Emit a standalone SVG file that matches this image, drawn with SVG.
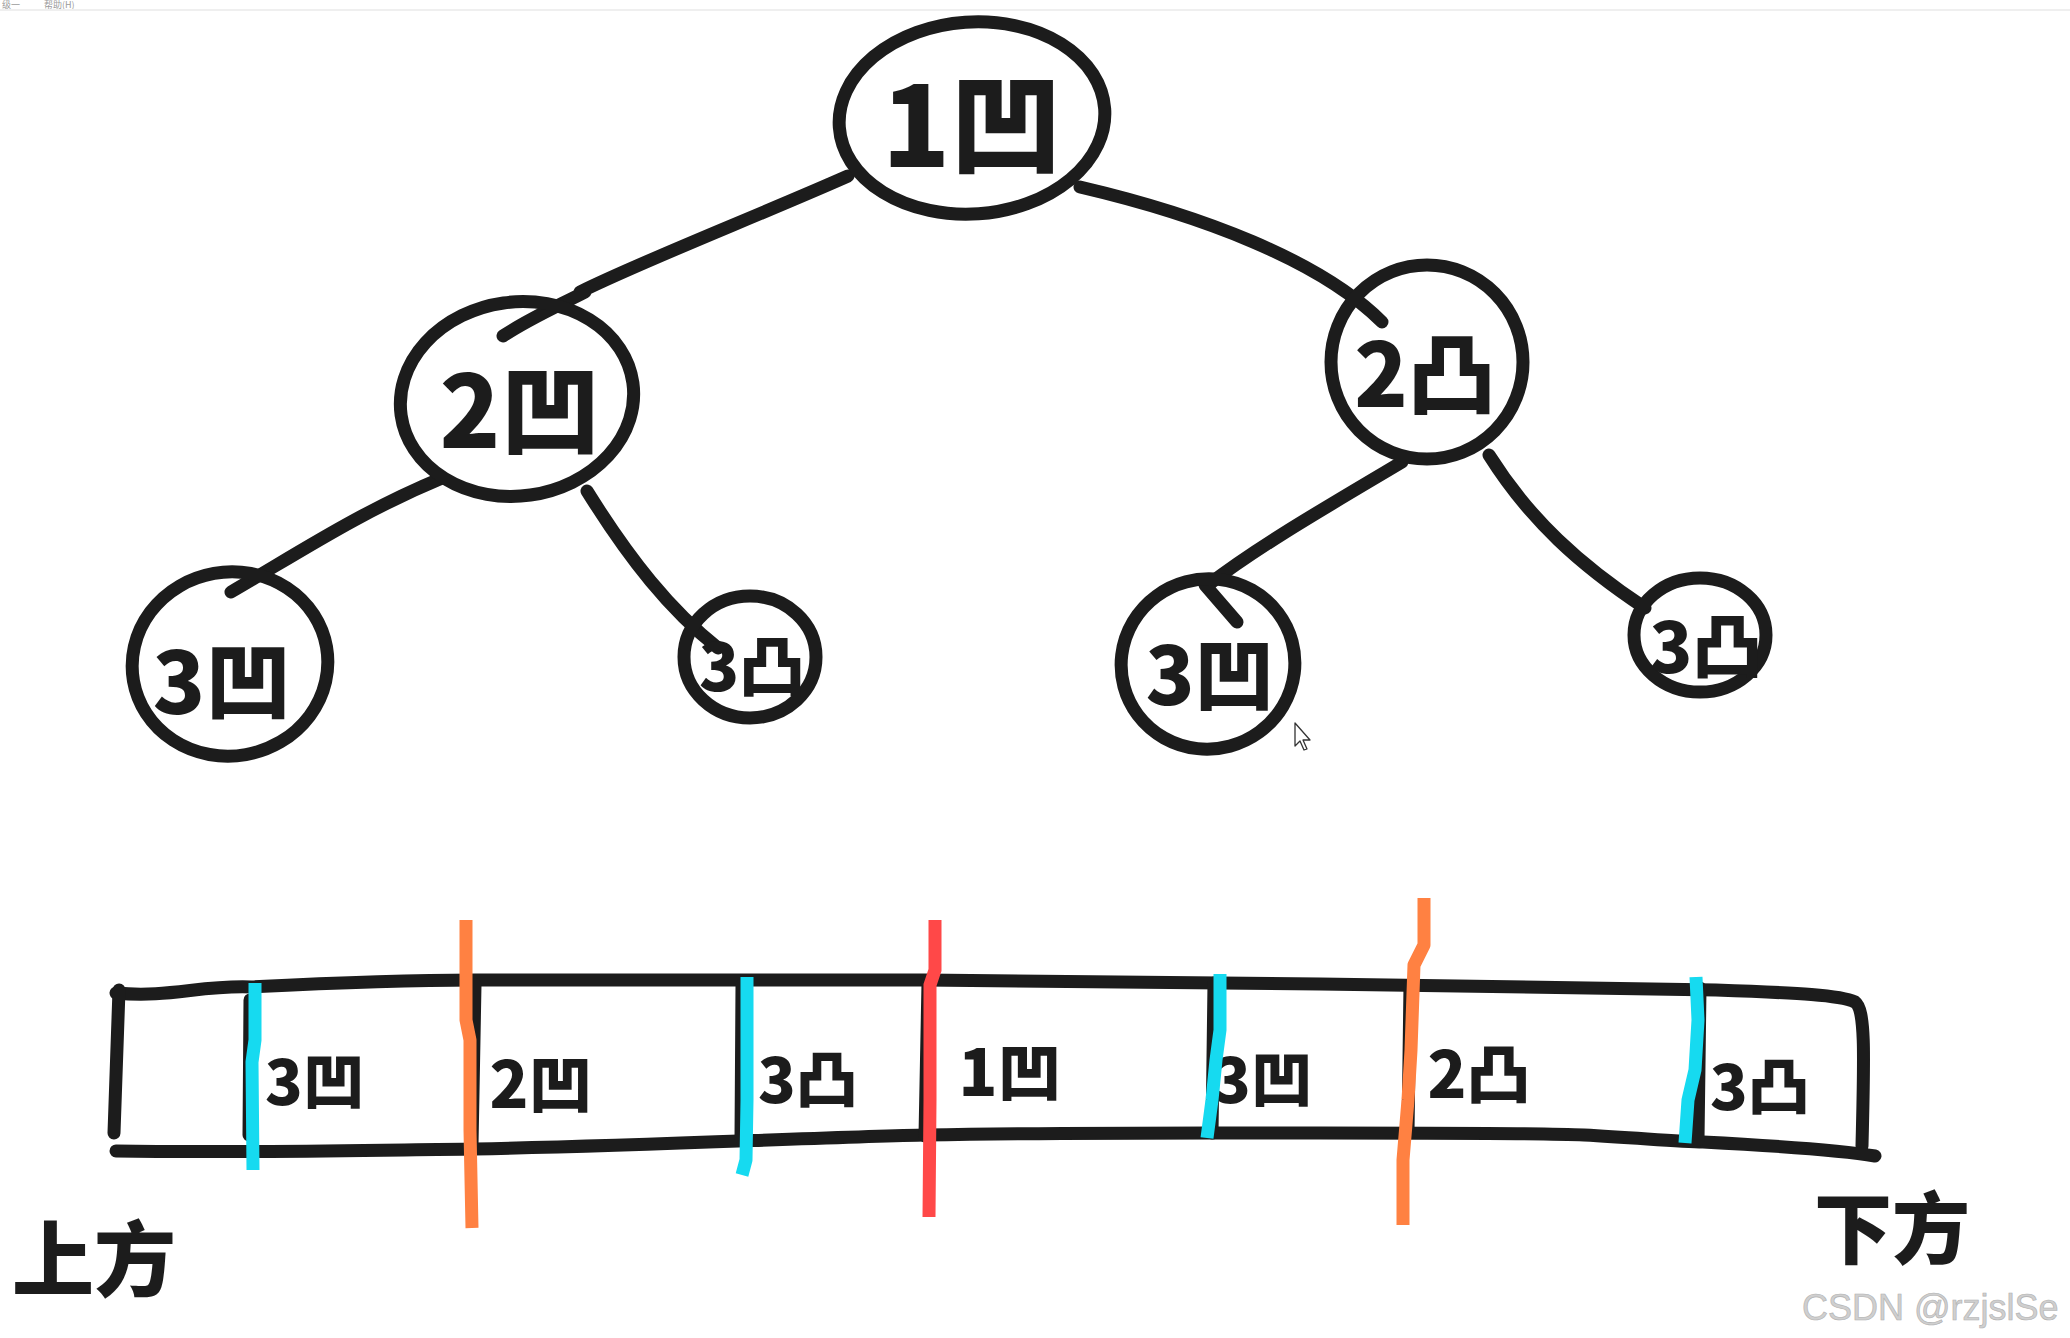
<svg xmlns="http://www.w3.org/2000/svg" width="2070" height="1338" viewBox="0 0 2070 1338">
<style>
.ink{fill:none;stroke:#1c1c1c;stroke-width:13;stroke-linecap:round;stroke-linejoin:round}
.lbl{font-family:"Noto Sans CJK SC","Noto Sans",sans-serif;font-weight:900;fill:#1c1c1c;text-anchor:middle;dominant-baseline:central}
.cy{fill:none;stroke:#16daf0;stroke-width:13;stroke-linecap:butt;stroke-linejoin:round}
.or{fill:none;stroke:#ff8142;stroke-width:13;stroke-linecap:butt;stroke-linejoin:round}
.rd{fill:none;stroke:#ff4848;stroke-width:13;stroke-linecap:butt}
</style>
<rect width="2070" height="1338" fill="#ffffff"/>
<g id="titlebar">
<text x="2" y="8" font-family="Noto Sans CJK SC, sans-serif" font-size="9" fill="#9a9a9a">级一</text>
<text x="44" y="8" font-family="Noto Sans CJK SC, sans-serif" font-size="9" fill="#9a9a9a">帮助(H)</text>
<line x1="0" y1="10" x2="2070" y2="10" stroke="#efefef" stroke-width="2"/>
</g>
<g id="connectors">
<path class="ink" d="M848,176 C760,215 640,262 580,292 M585,292 C560,305 530,318 503,336"/>
<path class="ink" d="M1080,187 C1200,215 1320,260 1382,322"/>
<path class="ink" d="M442,478 C360,512 300,552 231,592"/>
<path class="ink" d="M587,491 C630,560 670,610 718,648"/>
<path class="ink" d="M1402,462 C1330,505 1260,545 1208,585 M1205,585 L1237,622"/>
<path class="ink" d="M1489,455 C1530,520 1580,565 1645,608"/>
</g>
<g id="node-1">
<ellipse class="ink" cx="972" cy="118" rx="133" ry="96" transform="rotate(-4 972 118)"/>
<text class="lbl" x="972" y="118" font-size="112">1凹</text>
</g>
<g id="node-2a">
<ellipse class="ink" cx="517" cy="399" rx="117" ry="97" transform="rotate(-8 517 399)"/>
<text class="lbl" x="520" y="404" font-size="100">2凹</text>
</g>
<g id="node-2b">
<ellipse class="ink" cx="1427" cy="362" rx="96" ry="97"/>
<text class="lbl" x="1425" y="368" font-size="88">2凸</text>
</g>
<g id="node-3a">
<ellipse class="ink" cx="230" cy="664" rx="98" ry="92" transform="rotate(-10 230 664)"/>
<text class="lbl" x="222" y="676" font-size="86">3凹</text>
</g>
<g id="node-3b">
<ellipse class="ink" cx="750" cy="657" rx="66" ry="61"/>
<text class="lbl" x="752" y="662" font-size="66">3凸</text>
</g>
<g id="node-3c">
<ellipse class="ink" cx="1208" cy="664" rx="87" ry="85" transform="rotate(-15 1208 664)"/>
<text class="lbl" x="1210" y="670" font-size="80">3凹</text>
</g>
<g id="node-3d">
<ellipse class="ink" cx="1700" cy="635" rx="66" ry="57"/>
<text class="lbl" x="1706" y="642" font-size="70">3凸</text>
</g>
<g id="array">
<path class="ink" d="M116,993 C170,998 200,985 251,987 C330,983 400,980 475,980 C640,980 800,980 924,980 C1100,982 1220,984 1320,984 C1500,986 1620,988 1716,990 C1800,993 1840,995 1855,1002 C1866,1010 1864,1060 1862,1146"/>
<path class="ink" d="M119,990 L114,1133"/>
<path class="ink" d="M116,1151 C250,1153 380,1150 475,1149 C640,1146 800,1138 924,1135 C1100,1132 1220,1133 1320,1133 C1450,1133 1540,1133 1584,1135 C1640,1138 1680,1142 1703,1142 C1780,1146 1840,1150 1875,1156"/>
<path class="ink" d="M250,1000 L249,1135"/>
<path class="ink" d="M475,985 L472,1146"/>
<path class="ink" d="M742,985 L741,1138"/>
<path class="ink" d="M928,983 L925,1136"/>
<path class="ink" d="M1214,983 L1212,1133"/>
<path class="ink" d="M1410,985 L1408,1133"/>
<path class="ink" d="M1700,988 L1698,1140"/>
<text class="lbl" x="315" y="1078" font-size="62">3凹</text>
<text class="lbl" x="541" y="1080" font-size="64">2凹</text>
<text class="lbl" x="808" y="1076" font-size="62">3凸</text>
<text class="lbl" x="1010" y="1068" font-size="64">1凹</text>
<text class="lbl" x="1263" y="1076" font-size="62">3凹</text>
<text class="lbl" x="1479" y="1070" font-size="64">2凸</text>
<text class="lbl" x="1760" y="1083" font-size="62">3凸</text>
</g>
<g id="markers">
<path class="cy" d="M255,983 L255,1040 L252,1062 L253,1170"/>
<path class="or" d="M466,920 L466,1020 L470,1040 L470,1130 L472,1228"/>
<path class="cy" d="M747,977 L747,1100 L746,1160 L742,1175"/>
<path class="rd" d="M935,920 L935,970 L930,985 L930,1100 L929,1217"/>
<path class="cy" d="M1220,974 L1220,1030 L1216,1060 L1212,1100 L1207,1138"/>
<path class="or" d="M1424,898 L1424,945 L1414,965 L1411,1050 L1408,1100 L1403,1160 L1403,1225"/>
<path class="cy" d="M1696,977 L1698,1020 L1695,1070 L1688,1100 L1685,1143"/>
</g>
<g id="side-labels">
<text class="lbl" x="94" y="1254" font-size="82">上方</text>
<text class="lbl" x="1892" y="1224" font-size="78">下方</text>
</g>
<g id="cursor">
<path d="M1295,723 L1295,746 L1300,741 L1304,750 L1307,749 L1303,740 L1310,740 Z" fill="#ffffff" stroke="#333" stroke-width="1.3" stroke-linejoin="round"/>
</g>
<g id="watermark">
<text x="1802" y="1320" font-family="Liberation Sans, Arial, sans-serif" font-size="36" fill="#cfcfcf" stroke="#b0b0b0" stroke-width="0.6">CSDN @rzjslSe</text>
</g>
</svg>
